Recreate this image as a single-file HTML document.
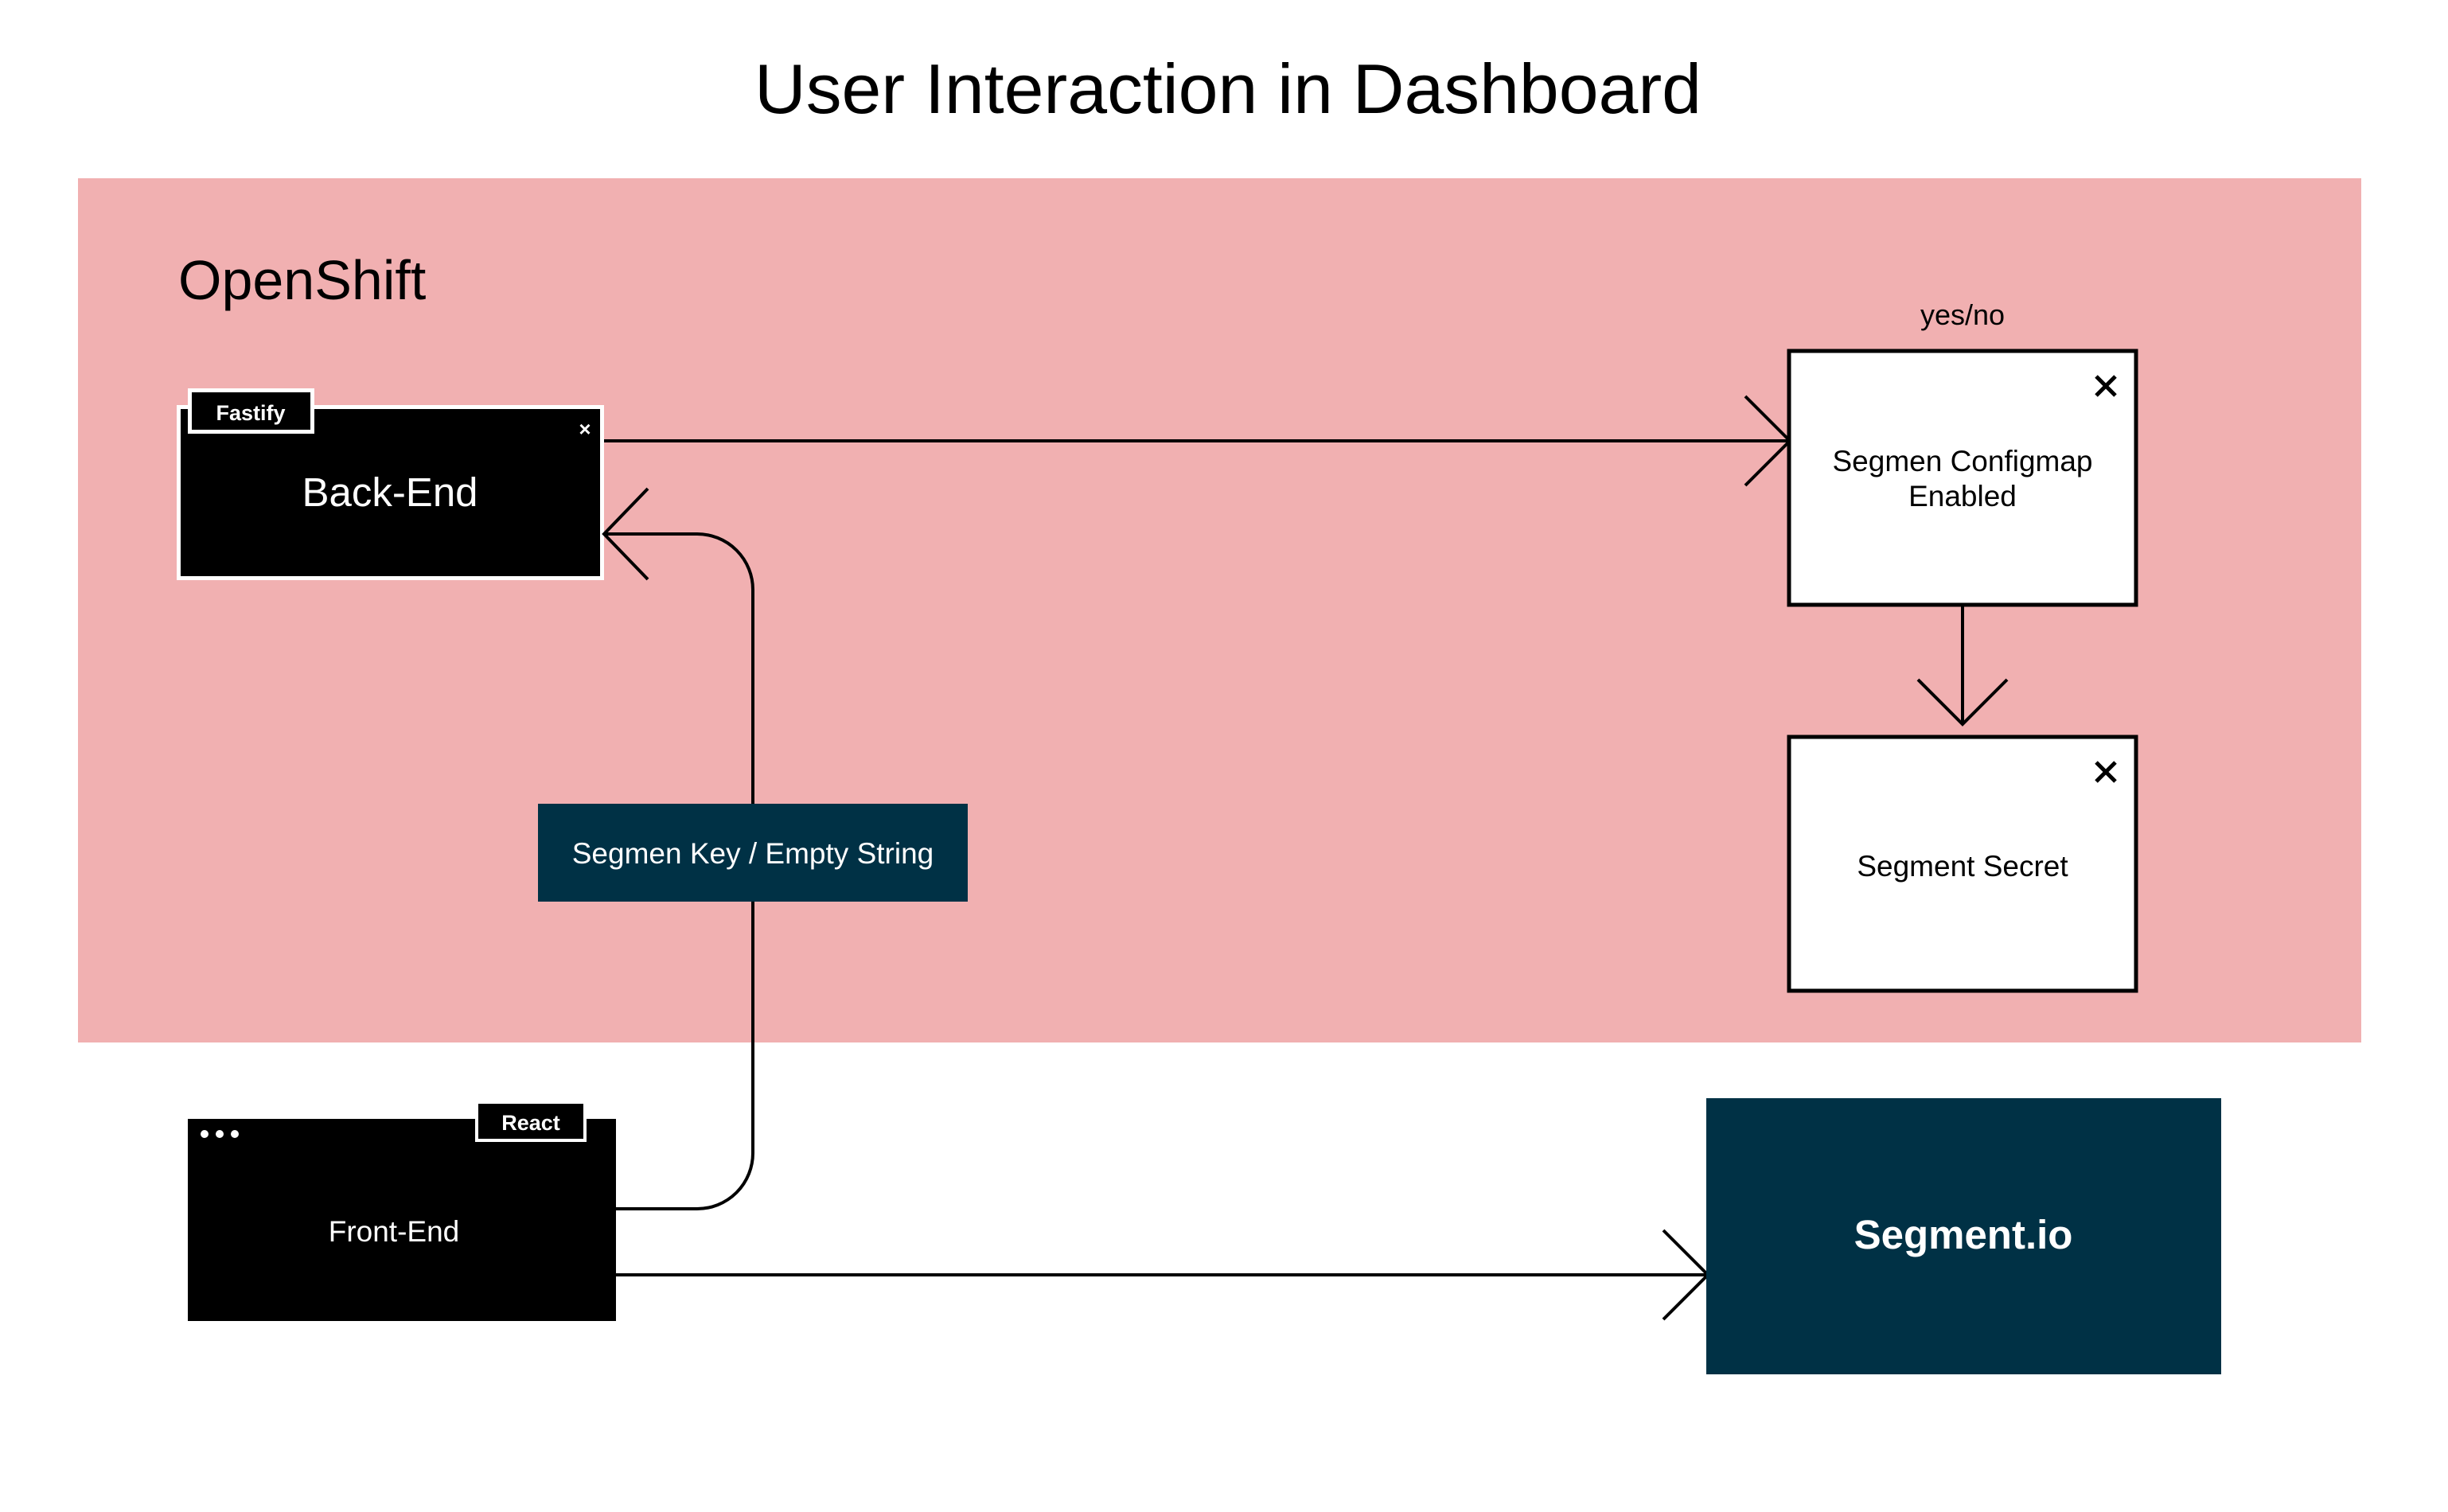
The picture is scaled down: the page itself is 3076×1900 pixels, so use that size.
<!DOCTYPE html>
<html><head><meta charset="utf-8"><style>html,body{margin:0;padding:0;background:#fff}svg{display:block}</style></head>
<body>
<svg width="3076" height="1900" viewBox="0 0 3076 1900" xmlns="http://www.w3.org/2000/svg" font-family="Liberation Sans, sans-serif">
<rect width="3076" height="1900" fill="#fff"/>
<text x="1543" y="142" font-size="88" text-anchor="middle" fill="#000" textLength="1190" lengthAdjust="spacingAndGlyphs">User Interaction in Dashboard</text>
<rect x="98" y="224" width="2869" height="1086" fill="#f1b0b1"/>
<text x="224" y="376" font-size="70" fill="#000">OpenShift</text>

<!-- Back-End -->
<rect x="224.5" y="511.5" width="532" height="215" fill="#000" stroke="#fff" stroke-width="5"/>
<rect x="238.5" y="490.5" width="154" height="52" fill="#000" stroke="#fff" stroke-width="5"/>
<text x="315" y="528" font-size="27" font-weight="bold" fill="#fff" text-anchor="middle">Fastify</text>
<text x="735" y="548" font-size="26" font-weight="bold" fill="#fff" text-anchor="middle">×</text>
<text x="490" y="636" font-size="51" fill="#fff" text-anchor="middle">Back-End</text>

<g fill="none" stroke="#000" stroke-width="4">
<path d="M759 554 H2249"/>
<path d="M2193 498 L2249 554 L2193 610"/>
<path d="M2466 761 V910"/>
<path d="M2410 854 L2466 910 L2522 854"/>
<path d="M774 1519 H876 A70 70 0 0 0 946 1449 V741 A70 70 0 0 0 876 671 H759"/>
<path d="M814 614 L759 671 L814 728"/>
<path d="M774 1602 H2146"/>
<path d="M2090 1546 L2146 1602 L2090 1658"/>
</g>

<!-- configmap -->
<text x="2466" y="408" font-size="36" text-anchor="middle" fill="#000">yes/no</text>
<rect x="2248" y="441" width="436" height="319" fill="#fff" stroke="#000" stroke-width="5"/>
<path d="M2634 473 L2658 497 M2658 473 L2634 497" stroke="#000" stroke-width="5"/>
<text x="2466" y="592" font-size="37" text-anchor="middle" fill="#000">Segmen Configmap</text>
<text x="2466" y="636" font-size="37" text-anchor="middle" fill="#000">Enabled</text>

<!-- secret -->
<rect x="2248" y="926" width="436" height="319" fill="#fff" stroke="#000" stroke-width="5"/>
<path d="M2634 958 L2658 982 M2658 958 L2634 982" stroke="#000" stroke-width="5"/>
<text x="2466" y="1101" font-size="37" text-anchor="middle" fill="#000">Segment Secret</text>

<!-- label -->
<rect x="676" y="1010" width="540" height="123" fill="#003145"/>
<text x="946" y="1085" font-size="37" text-anchor="middle" fill="#fff">Segmen Key / Empty String</text>

<!-- Front-End -->
<rect x="236" y="1406" width="538" height="254" fill="#000"/>
<rect x="599" y="1385" width="136" height="48" fill="#000" stroke="#fff" stroke-width="4"/>
<text x="667" y="1420" font-size="27" font-weight="bold" fill="#fff" text-anchor="middle">React</text>
<circle cx="257" cy="1425" r="5" fill="#fff"/>
<circle cx="276" cy="1425" r="5" fill="#fff"/>
<circle cx="295" cy="1425" r="5" fill="#fff"/>
<text x="495" y="1560" font-size="37" text-anchor="middle" fill="#fff">Front-End</text>

<!-- Segment.io -->
<rect x="2144" y="1380" width="647" height="347" fill="#003145"/>
<text x="2467" y="1569" font-size="51" font-weight="bold" text-anchor="middle" fill="#fff">Segment.io</text>
</svg>
</body></html>
